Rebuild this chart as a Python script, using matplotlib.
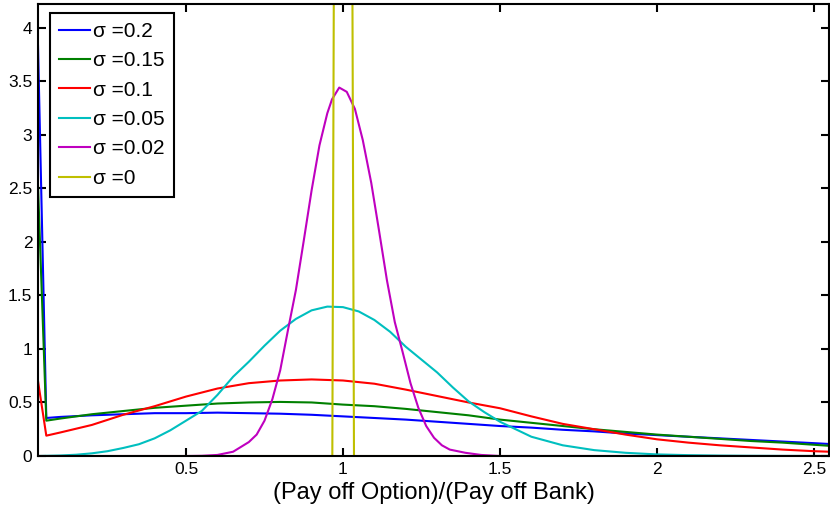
import matplotlib
matplotlib.use("Agg")
import matplotlib.pyplot as plt

plt.rcParams['font.family'] = ['Liberation Sans', 'DejaVu Sans']

# ratio grid shared by the broad densities
x = [0.0286, 0.055, 0.1, 0.2, 0.3, 0.4, 0.5, 0.6, 0.7, 0.8, 0.9, 1.0, 1.1, 1.2,
     1.3, 1.4, 1.5, 1.6, 1.7, 1.8, 1.9, 2.0, 2.1, 2.2, 2.3, 2.4, 2.5, 2.55]

sig_020 = [3.83, 0.355, 0.365, 0.38, 0.39, 0.40, 0.40, 0.405, 0.40, 0.395, 0.385,
           0.37, 0.355, 0.34, 0.32, 0.30, 0.28, 0.265, 0.245, 0.23, 0.21, 0.195,
           0.18, 0.165, 0.15, 0.135, 0.12, 0.112]
sig_015 = [2.52, 0.33, 0.35, 0.39, 0.42, 0.45, 0.47, 0.49, 0.50, 0.505, 0.50,
           0.48, 0.465, 0.44, 0.41, 0.38, 0.34, 0.31, 0.28, 0.25, 0.225, 0.20,
           0.18, 0.16, 0.14, 0.125, 0.105, 0.095]
sig_010 = [0.70, 0.19, 0.22, 0.29, 0.385, 0.465, 0.555, 0.63, 0.68, 0.705, 0.715,
           0.705, 0.675, 0.62, 0.56, 0.50, 0.446, 0.37, 0.30, 0.25, 0.20, 0.156,
           0.125, 0.10, 0.08, 0.06, 0.045, 0.04]

x_005 = [0.0286, 0.1, 0.15, 0.2, 0.25, 0.3, 0.35, 0.4, 0.45, 0.5, 0.55, 0.6, 0.65,
         0.7, 0.75, 0.8, 0.85, 0.9, 0.95, 1.0, 1.05, 1.1, 1.15, 1.2, 1.25, 1.3,
         1.35, 1.4, 1.45, 1.5, 1.55, 1.6, 1.65, 1.7, 1.8, 1.9, 2.0, 2.1, 2.2, 2.3,
         2.4, 2.55]
sig_005 = [0.0, 0.005, 0.012, 0.025, 0.045, 0.075, 0.11, 0.165, 0.24, 0.33, 0.42,
           0.57, 0.74, 0.88, 1.03, 1.17, 1.28, 1.36, 1.395, 1.39, 1.35, 1.27, 1.16,
           1.02, 0.90, 0.78, 0.64, 0.51, 0.41, 0.32, 0.25, 0.18, 0.14, 0.10, 0.055,
           0.03, 0.015, 0.008, 0.004, 0.002, 0.001, 0.0]

x_002 = [0.0286, 0.5, 0.55, 0.6, 0.65, 0.7, 0.725, 0.75, 0.775, 0.8, 0.825, 0.85,
         0.875, 0.9, 0.925, 0.95, 0.965, 0.988, 1.012, 1.038, 1.063, 1.09, 1.115,
         1.14, 1.165, 1.19, 1.215, 1.24, 1.265, 1.29, 1.315, 1.34, 1.39, 1.44,
         1.5, 2.55]
sig_002 = [0.0, 0.0, 0.002, 0.01, 0.04, 0.13, 0.20, 0.33, 0.53, 0.80, 1.18, 1.55,
           2.01, 2.48, 2.90, 3.20, 3.33, 3.44, 3.40, 3.24, 2.95, 2.55, 2.10, 1.64,
           1.25, 0.97, 0.68, 0.45, 0.28, 0.17, 0.10, 0.06, 0.03, 0.01, 0.0, 0.0]

x_000 = [0.0286, 0.966, 0.988, 1.012, 1.035, 2.55]
sig_000 = [0.0, 0.0, 20.0, 20.0, 0.0, 0.0]

fig = plt.figure(figsize=(8.3, 5.09), dpi=100)
ax = fig.add_axes([0.0458, 0.1041, 0.953, 0.888])

lw = 1.5
ax.plot(x, sig_020, color=(0, 0, 1), lw=lw, label='σ =0.2')
ax.plot(x, sig_015, color=(0, 0.5, 0), lw=lw, label='σ =0.15')
ax.plot(x, sig_010, color=(1, 0, 0), lw=lw, label='σ =0.1')
ax.plot(x_005, sig_005, color=(0, 0.75, 0.75), lw=lw, label='σ =0.05')
ax.plot(x_002, sig_002, color=(0.75, 0, 0.75), lw=lw, label='σ =0.02')
ax.plot(x_000, sig_000, color=(0.75, 0.75, 0), lw=lw, label='σ =0')

ax.set_xlim(0.0286, 2.548)
ax.set_ylim(0, 4.22)
ax.set_xticks([0.5, 1, 1.5, 2, 2.5])
ax.set_xticklabels(['0.5', '1', '1.5', '2', '2.5'])
ax.set_yticks([0, 0.5, 1, 1.5, 2, 2.5, 3, 3.5, 4])
ax.set_yticklabels(['0', '0.5', '1', '1.5', '2', '2.5', '3', '3.5', '4'])
ax.tick_params(direction='in', top=True, right=True, length=6, width=1.5,
               labelsize=12.5, pad=4)
for s in ax.spines.values():
    s.set_linewidth(1.5)

ax.set_xlabel('(Pay off Option)/(Pay off Bank)', fontsize=17, labelpad=4)

leg = ax.legend(loc='upper left', bbox_to_anchor=(0.0152, 0.980), fontsize=15,
                fancybox=False, framealpha=1, edgecolor='black',
                handlelength=1.5, handletextpad=0.15, labelspacing=0.5,
                borderpad=0.42, borderaxespad=0)
leg.get_frame().set_linewidth(1.5)

fig.savefig('out.png', dpi=100)
